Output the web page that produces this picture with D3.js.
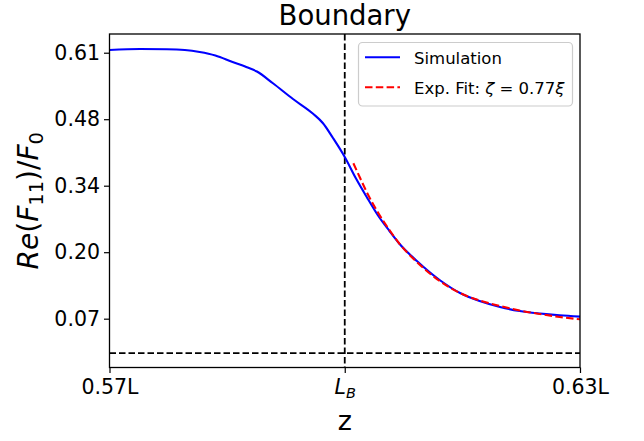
<!DOCTYPE html>
<html>
<head>
<meta charset="utf-8">
<script src="https://cdn.jsdelivr.net/npm/d3@7"></script>
<style>
  html, body { margin: 0; padding: 0; background: #fff; }
  svg { display: block; font-family: "DejaVu Sans", sans-serif; }
</style>
</head>
<body>
<svg id="chart" width="644" height="441"></svg>
<script>
// ---- data (z in units of L, values Re(F11)/F0) ----
const simZ = [0.5700, 0.5739, 0.5773, 0.5796, 0.5815, 0.5835, 0.5857, 0.5873, 0.5888, 0.5908,
              0.5934, 0.5960, 0.5972, 0.5985, 0.6000, 0.6014, 0.6028, 0.6042, 0.6057, 0.6070,
              0.6092, 0.6121, 0.6147, 0.6172, 0.6198, 0.6223, 0.6249, 0.6274, 0.6300];
const simF = [0.6155, 0.6175, 0.6171, 0.6155, 0.6114, 0.6043, 0.5911, 0.5820, 0.5718, 0.5485,
              0.5160, 0.4856, 0.4673, 0.4368, 0.3983, 0.3556, 0.3171, 0.2805, 0.2480, 0.2216,
              0.1871, 0.1485, 0.1221, 0.1059, 0.0938, 0.0856, 0.0805, 0.0769, 0.0741];
const fitZ = [0.6011, 0.6019, 0.6028, 0.6042, 0.6057, 0.6070, 0.6092, 0.6121, 0.6147, 0.6172,
              0.6198, 0.6223, 0.6249, 0.6274, 0.6300];
const fitF = [0.3855, 0.3577, 0.3272, 0.2866, 0.2501, 0.2216, 0.1851, 0.1465, 0.1221, 0.1069,
              0.0958, 0.0867, 0.0795, 0.0735, 0.0688];
const boundaryZ = 0.60;
const baselineF = 0.0;
const xTickValues = [0.57, 0.60, 0.63];
const xTickLabels = ["0.57L", "L_B", "0.63L"];
const yTickValues = [0.61, 0.475, 0.34, 0.205, 0.07];
const yTickLabels = ["0.61", "0.48", "0.34", "0.20", "0.07"];
const seriesNames = ["Simulation", "Exp. Fit"];

// ---- layout ----
const L = 109.5, R = 580, T = 34, B = 367.5;
const svg = d3.select("#chart");

const x = d3.scaleLinear().domain([0.57, 0.63]).range([L, R]);
const y = d3.scaleLinear().domain([-0.0291, 0.648]).range([B, T]);

svg.append("defs").append("clipPath").attr("id", "plotclip")
  .append("rect").attr("x", L).attr("y", T).attr("width", R - L).attr("height", B - T);

const plot = svg.append("g").attr("clip-path", "url(#plotclip)");

// reference dashed lines
plot.append("line")
  .attr("x1", x(boundaryZ)).attr("x2", x(boundaryZ)).attr("y1", T).attr("y2", B)
  .attr("stroke", "#000").attr("stroke-width", 1.8).attr("stroke-dasharray", "6.5,3");
plot.append("line")
  .attr("x1", L).attr("x2", R).attr("y1", y(baselineF)).attr("y2", y(baselineF))
  .attr("stroke", "#000").attr("stroke-width", 1.8).attr("stroke-dasharray", "6.5,3");

const line = d3.line().x(d => x(d[0])).y(d => y(d[1])).curve(d3.curveMonotoneX);

plot.append("path")
  .datum(simZ.map((z, i) => [z, simF[i]]))
  .attr("fill", "none").attr("stroke", "#0000ff").attr("stroke-width", 2.1)
  .attr("d", line);

plot.append("path")
  .datum(fitZ.map((z, i) => [z, fitF[i]]))
  .attr("fill", "none").attr("stroke", "#ff0000").attr("stroke-width", 2.1)
  .attr("stroke-dasharray", "7.5,3.3")
  .attr("d", line);

// axes
const yAxis = d3.axisLeft(y).tickValues(yTickValues)
  .tickFormat((d, i) => yTickLabels[i]).tickSize(5.5).tickPadding(4);
const gy = svg.append("g").attr("transform", `translate(${L},0)`).call(yAxis);
gy.select(".domain").remove();
gy.selectAll("line").attr("stroke", "#000").attr("stroke-width", 1.2);
gy.selectAll("text").attr("font-size", 20.5).attr("fill", "#000")
  .attr("font-family", "DejaVu Sans");

const xAxis = d3.axisBottom(x).tickValues(xTickValues).tickFormat(() => "")
  .tickSize(5.5).tickPadding(4);
const gx = svg.append("g").attr("transform", `translate(0,${B})`).call(xAxis);
gx.select(".domain").remove();
gx.selectAll("line").attr("stroke", "#000").attr("stroke-width", 1.2);
gx.selectAll(".tick").each(function(d, i) {
  const t = d3.select(this).select("text").text(null)
    .attr("font-size", 20.5).attr("fill", "#000").attr("font-family", "DejaVu Sans")
    .attr("dy", null).attr("y", 26);
  const lab = xTickLabels[i];
  if (lab.indexOf("_") >= 0) {
    const parts = lab.split("_");
    t.append("tspan").attr("font-style", "italic").text(parts[0]);
    t.append("tspan").attr("font-style", "italic").attr("font-size", 14.5)
      .attr("dy", 4).text(parts[1]);
  } else {
    t.text(lab);
  }
});

// frame
svg.append("rect").attr("x", L).attr("y", T).attr("width", R - L).attr("height", B - T)
  .attr("fill", "none").attr("stroke", "#000").attr("stroke-width", 1.3);

// title
svg.append("text").attr("x", (L + R) / 2).attr("y", 25).attr("text-anchor", "middle")
  .attr("font-size", 27.5).attr("fill", "#000").text("Boundary");

// x label
svg.append("text").attr("x", (L + R) / 2).attr("y", 430).attr("text-anchor", "middle")
  .attr("font-size", 27).attr("fill", "#000").text("z");

// y label: Re(F_11)/F_0
const yl = svg.append("text")
  .attr("transform", `translate(37.5,${(T + B) / 2}) rotate(-90)`)
  .attr("text-anchor", "middle").attr("font-size", 28).attr("fill", "#000");
yl.append("tspan").attr("font-style", "italic").text("Re");
yl.append("tspan").text("(");
yl.append("tspan").attr("font-style", "italic").text("F");
yl.append("tspan").attr("font-size", 19.5).attr("dy", 5).text("11");
yl.append("tspan").attr("dy", -5).text(")/");
yl.append("tspan").attr("font-style", "italic").text("F");
yl.append("tspan").attr("font-size", 19.5).attr("dy", 5).text("0");

// legend
const lg = svg.append("g");
lg.append("rect").attr("x", 358.5).attr("y", 42.5).attr("width", 214).attr("height", 63.5)
  .attr("rx", 4).attr("fill", "#fff").attr("fill-opacity", 0.8)
  .attr("stroke", "#cccccc").attr("stroke-width", 1.2);
lg.append("line").attr("x1", 365).attr("x2", 400).attr("y1", 57.3).attr("y2", 57.3)
  .attr("stroke", "#0000ff").attr("stroke-width", 2.1);
lg.append("line").attr("x1", 365).attr("x2", 400).attr("y1", 87.3).attr("y2", 87.3)
  .attr("stroke", "#ff0000").attr("stroke-width", 2.1).attr("stroke-dasharray", "7.5,3.3");
lg.append("text").attr("x", 414).attr("y", 63.5).attr("font-size", 16.5).attr("fill", "#000")
  .text(seriesNames[0]);
const lt = lg.append("text").attr("x", 414).attr("y", 93.5).attr("font-size", 16.5).attr("fill", "#000");
lt.append("tspan").text(seriesNames[1] + ": ");
lt.append("tspan").attr("font-style", "italic").text("ζ");
lt.append("tspan").text(" = 0.77");
lt.append("tspan").attr("font-style", "italic").text("ξ");
</script>
</body>
</html>
